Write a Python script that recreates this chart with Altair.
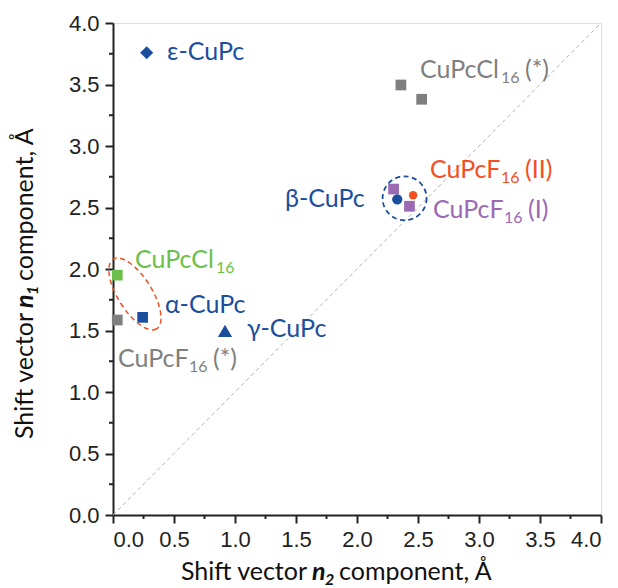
import altair as alt
import pandas as pd

# ---------------- data ----------------
pt_series = ["CuPcF16 (I)", "CuPcF16 (I)", "β-CuPc", "CuPcF16 (II)",
             "CuPcCl16 (*)", "CuPcCl16 (*)", "ε-CuPc", "CuPcCl16",
             "α-CuPc", "CuPcF16 (*)", "γ-CuPc"]
pt_x = [2.30, 2.43, 2.33, 2.46, 2.36, 2.53, 0.276, 0.035, 0.243, 0.035, 0.918]
pt_y = [2.65, 2.51, 2.567, 2.60, 3.496, 3.38, 3.758, 1.95, 1.607, 1.585, 1.497]

lab_series = ["ε-CuPc", "CuPcCl16 (*)", "CuPcF16 (II)", "CuPcF16 (I)", "β-CuPc",
              "CuPcCl16", "α-CuPc", "γ-CuPc", "CuPcF16 (*)"]
lab_main = ["ε-CuPc", "CuPcCl", "CuPcF", "CuPcF", "β-CuPc",
            "CuPcCl", "α-CuPc", "γ-CuPc", "CuPcF"]
lab_sub = ["", "16", "16", "16", "", "16", "", "", "16"]
lab_suffix = ["", "(*)", "(II)", "(I)", "", "", "", "", "(*)"]
lab_x = [0.443, 2.516, 2.598, 2.623, 1.41, 0.180, 0.426, 1.098, 0.041]
lab_y = [3.70, 3.553, 2.740, 2.415, 2.504, 2.008, 1.642, 1.447, 1.203]

diag_x = [0.0, 4.0]
diag_y = [0.0, 4.0]

ellipse_x = [0.18]
ellipse_y = [1.797]
circle_x = [2.39]
circle_y = [2.575]

ticks_major = [0.0, 0.5, 1.0, 1.5, 2.0, 2.5, 3.0, 3.5, 4.0]
ticks_minor = [0.25, 0.75, 1.25, 1.75, 2.25, 2.75, 3.25, 3.75]

# ---------------- styles ----------------
BLUE = "#1c4e9e"
GRAY = "#7f7f7f"
GREEN = "#6cbf4a"
RED = "#f25022"
PURPLE = "#9c69b5"
AXIS_COL = "#222"

style = {
    "ε-CuPc": (BLUE, "diamond", 170),
    "α-CuPc": (BLUE, "square", 115),
    "β-CuPc": (BLUE, "circle", 105),
    "γ-CuPc": (BLUE, "triangle-up", 200),
    "CuPcCl16": (GREEN, "square", 115),
    "CuPcCl16 (*)": (GRAY, "square", 115),
    "CuPcF16 (*)": (GRAY, "square", 115),
    "CuPcF16 (I)": (PURPLE, "square", 115),
    "CuPcF16 (II)": (RED, "circle", 70),
}

LAB_FONT = "Lato"
LAB_SIZE = 25
SUB_SIZE = 16
MAIN_W = {"CuPcCl": 81, "CuPcF": 71}
SUB_W = 18
SPACE_W = 6

W, H = 488, 492
MAJOR_LEN, MINOR_LEN = 8, 4
TICK_W = 2
xs = alt.Scale(domain=[0, 4], nice=False, zero=False)
ys = alt.Scale(domain=[0, 4], nice=False, zero=False)

axis_common = dict(
    values=ticks_major, format=".1f",
    labelFont="Liberation Sans", labelFontSize=22, labelColor=AXIS_COL,
    ticks=True, tickColor=AXIS_COL, tickWidth=TICK_W, tickSize=MAJOR_LEN,
    domainColor=AXIS_COL, domainWidth=2,
    grid=False, title=None, labelPadding=6,
)

pts_df = pd.DataFrame({"series": pt_series, "x": pt_x, "y": pt_y})
pts_df["col"] = [style[s][0] for s in pt_series]
pts_df["shp"] = [style[s][1] for s in pt_series]
pts_df["sz"] = [style[s][2] for s in pt_series]

points = alt.Chart(pts_df).mark_point(filled=True, opacity=1, strokeWidth=0).encode(
    x=alt.X("x:Q", scale=xs, axis=alt.Axis(orient="bottom", **axis_common)),
    y=alt.Y("y:Q", scale=ys, axis=alt.Axis(orient="left", **axis_common)),
    color=alt.Color("col:N", scale=None),
    shape=alt.Shape("shp:N", scale=None),
    size=alt.Size("sz:Q", scale=None),
)

# minor tick marks, positioned through the scales
minor_df = pd.DataFrame({"v": ticks_minor})
minor_x = alt.Chart(minor_df).mark_rule(color=AXIS_COL, strokeWidth=TICK_W).encode(
    x=alt.X("v:Q", scale=xs), y=alt.value(H), y2=alt.value(H + MINOR_LEN))
minor_y = alt.Chart(minor_df).mark_rule(color=AXIS_COL, strokeWidth=TICK_W).encode(
    y=alt.Y("v:Q", scale=ys), x=alt.value(0), x2=alt.value(-MINOR_LEN))

diag = alt.Chart(pd.DataFrame({"x": diag_x, "y": diag_y})).mark_line(
    color="#b4b4b4", strokeWidth=1, strokeDash=[4, 3]
).encode(
    x=alt.X("x:Q", scale=xs),
    y=alt.Y("y:Q", scale=ys),
)

ELLIPSE_PATH = ("M 1 0 C 1 0.229 0.552 0.415 0 0.415 C -0.552 0.415 -1 0.229 -1 0 "
                "C -1 -0.229 -0.552 -0.415 0 -0.415 C 0.552 -0.415 1 -0.229 1 0 Z")

ellipse = alt.Chart(pd.DataFrame({"x": ellipse_x, "y": ellipse_y})).mark_point(
    shape=ELLIPSE_PATH, size=6724, angle=58, filled=False, opacity=1,
    stroke=RED, strokeWidth=1.5, strokeDash=[5, 3.5]
).encode(
    x=alt.X("x:Q", scale=xs),
    y=alt.Y("y:Q", scale=ys),
)

circle = alt.Chart(pd.DataFrame({"x": circle_x, "y": circle_y})).mark_point(
    shape="circle", size=1936, filled=False, opacity=1,
    stroke=BLUE, strokeWidth=1.8, strokeDash=[5, 3.5]
).encode(
    x=alt.X("x:Q", scale=xs),
    y=alt.Y("y:Q", scale=ys),
)

layers = [points, diag, ellipse, circle, minor_x, minor_y]

for s, m, sub, suf, lx, ly in zip(lab_series, lab_main, lab_sub, lab_suffix, lab_x, lab_y):
    col = style[s][0]
    df = pd.DataFrame({"x": [lx], "y": [ly]})
    enc = dict(x=alt.X("x:Q", scale=xs), y=alt.Y("y:Q", scale=ys))
    layers.append(alt.Chart(df).mark_text(
        text=m, align="left", baseline="alphabetic", font=LAB_FONT,
        fontSize=LAB_SIZE, color=col).encode(**enc))
    if sub:
        dx = MAIN_W[m]
        layers.append(alt.Chart(df).mark_text(
            text=sub, align="left", baseline="alphabetic", font=LAB_FONT,
            fontSize=SUB_SIZE, color=col, dx=dx, dy=5).encode(**enc))
        if suf:
            layers.append(alt.Chart(df).mark_text(
                text=suf, align="left", baseline="alphabetic", font=LAB_FONT,
                fontSize=LAB_SIZE, color=col, dx=dx + SUB_W + SPACE_W).encode(**enc))

# ---------------- axis titles (composed) ----------------
TFONT = "Lato"
TSIZE = 25
TCOL = "#111"
dummy = pd.DataFrame({"a": [0]})


def tpiece(text, x, y, align="left", angle=0, size=TSIZE, bold=False, italic=False):
    kw = dict(text=text, align=align, baseline="alphabetic", font=TFONT,
              fontSize=size, color=TCOL)
    if angle:
        kw["angle"] = angle
    if bold:
        kw["fontWeight"] = "bold"
    if italic:
        kw["fontStyle"] = "italic"
    return alt.Chart(dummy).mark_text(**kw).encode(x=alt.value(x), y=alt.value(y))


xb = 557
layers += [
    tpiece("Shift vector", 194, xb, align="right"),
    tpiece("n", 199, xb, bold=True, italic=True),
    tpiece("2", 212, xb + 5, size=16, bold=True, italic=True),
    tpiece("component, Å", 226, xb),
]
yb = -80
layers += [
    tpiece("Shift vector", yb, 290, align="right", angle=270),
    tpiece("n", yb, 285, angle=270, bold=True, italic=True),
    tpiece("1", yb + 5, 272, angle=270, size=16, bold=True, italic=True),
    tpiece("component, Å", yb, 258, angle=270),
]

chart = alt.layer(*layers).properties(
    width=W, height=H,
    autosize=alt.AutoSizeParams(type="none"),
    padding={"left": 105, "top": 15, "right": 8, "bottom": 72},
).configure_view(stroke=AXIS_COL, strokeWidth=2).configure(background="white")

chart.save("out.html", embed_options={"renderer": "svg", "actions": False})
